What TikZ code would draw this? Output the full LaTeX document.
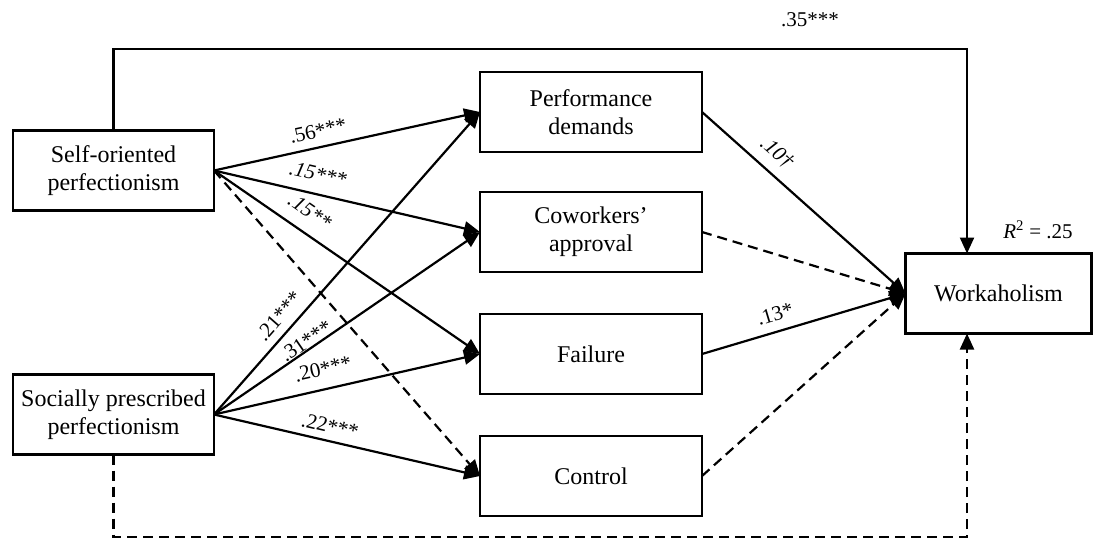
\documentclass[tikz,border=0pt]{standalone}
\usepackage{fontspec}
\setmainfont{Liberation Serif}
\usetikzlibrary{arrows.meta}
\begin{document}
\begin{tikzpicture}[x=1pt,y=-1pt,
  box/.style={draw, line width=2.2pt, inner sep=0pt, outer sep=0pt, align=center,
    font=\fontsize{24}{28}\selectfont, minimum height=80pt},
  arr/.style={line width=2.2pt, -{Triangle[length=16pt,width=14pt]}},
  dsh/.style={dash pattern=on 10pt off 6pt},
  lab/.style={font=\fontsize{21}{24}\selectfont, inner sep=0pt}]
\useasboundingbox (0,0) rectangle (1102,539);

% boxes
\node[box, minimum width=201pt] (SOP) at (113.5,170.5) {Self-oriented\\perfectionism};
\node[box, minimum width=201pt] (SPP) at (113.5,414.5) {Socially prescribed\\perfectionism};
\node[box, minimum width=222pt] (Perf) at (591,112) {Performance\\demands};
\node[box, minimum width=222pt] (Cow) at (591,232) {Coworkers’\\approval};
\node[box, minimum width=222pt] (Fail) at (591,354) {Failure};
\node[box, minimum width=222pt] (Ctrl) at (591,476) {Control};
\node[box, minimum width=186pt] (W) at (998.5,293.5) {Workaholism};

% corner coordinates
\coordinate (tr) at (967,49);
\coordinate (br) at (967,537);

% connectors from self-oriented
\draw[arr] (SOP.north) |- (tr) -- (tr |- W.north);
\draw[arr] (SOP.east) -- (Perf.west);
\draw[arr] (SOP.east) -- (Cow.west);
\draw[arr] (SOP.east) -- (Fail.west);
\draw[arr, dsh] (SOP.east) -- (Ctrl.west);

% connectors from socially prescribed
\draw[arr] (SPP.east) -- (Perf.west);
\draw[arr] (SPP.east) -- (Cow.west);
\draw[arr] (SPP.east) -- (Fail.west);
\draw[arr] (SPP.east) -- (Ctrl.west);
\draw[arr, dsh] (SPP.south) |- (br) -- (br |- W.south);

% mediators to workaholism
\draw[arr] (Perf.east) -- (W.west);
\draw[arr, dsh] (Cow.east) -- (W.west);
\draw[arr] (Fail.east) -- (W.west);
\draw[arr, dsh] (Ctrl.east) -- (W.west);

% labels
\node[lab] (l35) at (810,20) {.35***};
\node[lab] (lR) at (1038,230) {\textit{R}\textsuperscript{2} = .25};
\node[lab, rotate=12.4] (l56) at (318,131) {.56***};
\node[lab, rotate=-13] (l15a) at (318,174) {\textit{.15***}};
\node[lab, rotate=-34.7] (l15b) at (310,211) {\textit{.15**}};
\node[lab, rotate=48.7] (l21) at (279,316) {.21***};
\node[lab, rotate=34.5] (l31) at (306,341) {.31***};
\node[lab, rotate=12.8] (l20) at (323,369) {.20***};
\node[lab, rotate=-13.2] (l22) at (330,426) {.22***};
\node[lab, rotate=-41.9] (l10) at (777,153) {\textit{.10†}};
\node[lab, rotate=16.7] (l13) at (775,314) {.13*};
\end{tikzpicture}
\end{document}
